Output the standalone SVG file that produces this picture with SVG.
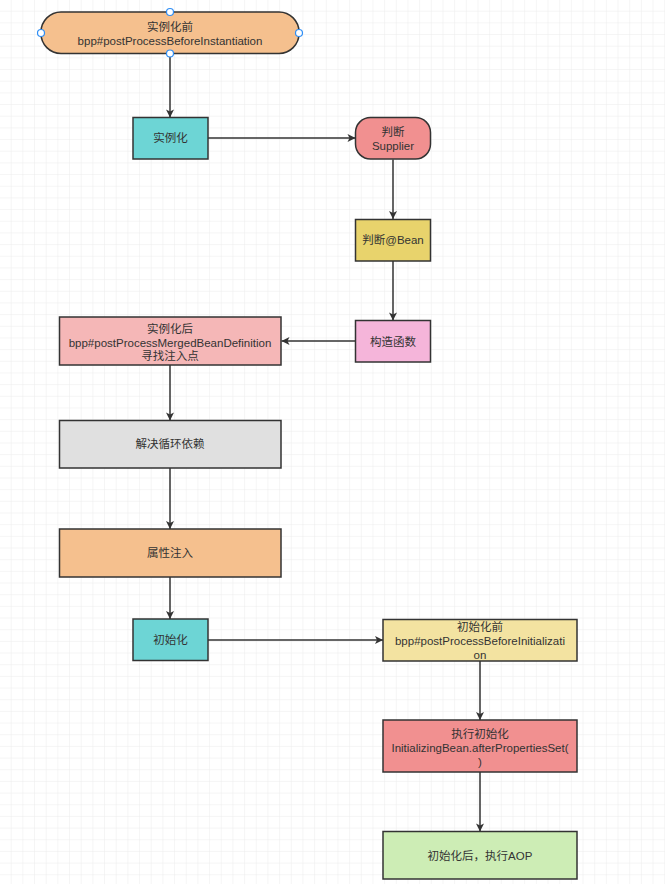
<svg xmlns="http://www.w3.org/2000/svg" width="665" height="884" viewBox="0 0 665 884">
<defs>
<pattern id="grid" x="0" y="0" width="11.67" height="11.67" patternUnits="userSpaceOnUse">
<path d="M11.67 0 V11.67 M0 11.67 H11.67" fill="none" stroke="#ebebeb" stroke-width="1"/>
</pattern>
<marker id="arr" viewBox="0 0 10 10" refX="10" refY="5" markerWidth="9" markerHeight="8" markerUnits="userSpaceOnUse" orient="auto">
<path d="M0 0 L10 5 L0 10 L2.5 5 Z" fill="#333333"/>
</marker>
<style>
.n{stroke:#333333;stroke-width:1.5}
.t{font-family:"Liberation Sans","Noto Sans CJK SC",sans-serif;font-size:11.5px;fill:#333333;text-anchor:middle;dominant-baseline:central}
.e{fill:none;stroke:#333333;stroke-width:1.5;marker-end:url(#arr)}
.h{fill:#ffffff;stroke:#2f8ef5;stroke-width:1.2}
</style>
</defs>
<rect width="665" height="884" fill="#ffffff"/>
<rect width="665" height="884" fill="url(#grid)"/>

<g id="edges">
<path class="e" d="M170 53.5 V117.5"/>
<path class="e" d="M208 138 H355.5"/>
<path class="e" d="M393 159.5 V219"/>
<path class="e" d="M393 261 V320.5"/>
<path class="e" d="M355 341 H281.5"/>
<path class="e" d="M170 365 V420.5"/>
<path class="e" d="M170 468 V529"/>
<path class="e" d="M170 577 V619"/>
<path class="e" d="M208 640 H383"/>
<path class="e" d="M480 661 V720"/>
<path class="e" d="M480 772 V831.5"/>
</g>

<g id="n1">
<rect class="n" x="41" y="12" width="258" height="41.5" rx="20" ry="20" fill="#f5c08e"/>
<text class="t" x="170" y="27">实例化前</text>
<text class="t" x="170" y="41">bpp#postProcessBeforeInstantiation</text>
<circle class="h" cx="170" cy="12" r="3.5"/>
<circle class="h" cx="41" cy="33" r="3.5"/>
<circle class="h" cx="299" cy="33" r="3.5"/>
<circle class="h" cx="170" cy="53.5" r="3.5"/>
</g>

<g id="n2">
<rect class="n" x="133" y="117.5" width="75" height="41.5" fill="#6dd5d5"/>
<text class="t" x="170.5" y="138">实例化</text>
</g>

<g id="n3">
<rect class="n" x="355.5" y="117.5" width="75" height="41.5" rx="15" ry="15" fill="#f19090"/>
<text class="t" x="393" y="131.5">判断</text>
<text class="t" x="393" y="145.5">Supplier</text>
</g>

<g id="n4">
<rect class="n" x="355.5" y="219.5" width="75" height="41.5" fill="#e8d36c"/>
<text class="t" x="393" y="240">判断@Bean</text>
</g>

<g id="n5">
<rect class="n" x="355.5" y="320.5" width="75" height="41.5" fill="#f5b5da"/>
<text class="t" x="393" y="341.5">构造函数</text>
</g>

<g id="n6">
<rect class="n" x="59.5" y="317" width="221.5" height="48" fill="#f5b7b7"/>
<text class="t" x="170" y="329">实例化后</text>
<text class="t" x="170" y="342.5">bpp#postProcessMergedBeanDefinition</text>
<text class="t" x="170" y="356">寻找注入点</text>
</g>

<g id="n7">
<rect class="n" x="59.5" y="420.5" width="221.5" height="47.5" fill="#e0e0e0"/>
<text class="t" x="170" y="444">解决循环依赖</text>
</g>

<g id="n8">
<rect class="n" x="59.5" y="529" width="221.5" height="48" fill="#f5c08e"/>
<text class="t" x="170" y="553">属性注入</text>
</g>

<g id="n9">
<rect class="n" x="133" y="619" width="75" height="41.5" fill="#6dd5d5"/>
<text class="t" x="170.5" y="640">初始化</text>
</g>

<g id="n10">
<rect class="n" x="383" y="619.5" width="194" height="41.5" fill="#f3e3a1"/>
<text class="t" x="480" y="626.5">初始化前</text>
<text class="t" x="480" y="640.5">bpp#postProcessBeforeInitializati</text>
<text class="t" x="480" y="654.5">on</text>
</g>

<g id="n11">
<rect class="n" x="383" y="720" width="194" height="52" fill="#f19090"/>
<text class="t" x="480" y="734">执行初始化</text>
<text class="t" x="480" y="747.5">InitializingBean.afterPropertiesSet(</text>
<text class="t" x="480" y="761.5">)</text>
</g>

<g id="n12">
<rect class="n" x="383" y="831.5" width="194" height="47.5" fill="#cdedb5"/>
<text class="t" x="480" y="855.5">初始化后，执行AOP</text>
</g>
</svg>
